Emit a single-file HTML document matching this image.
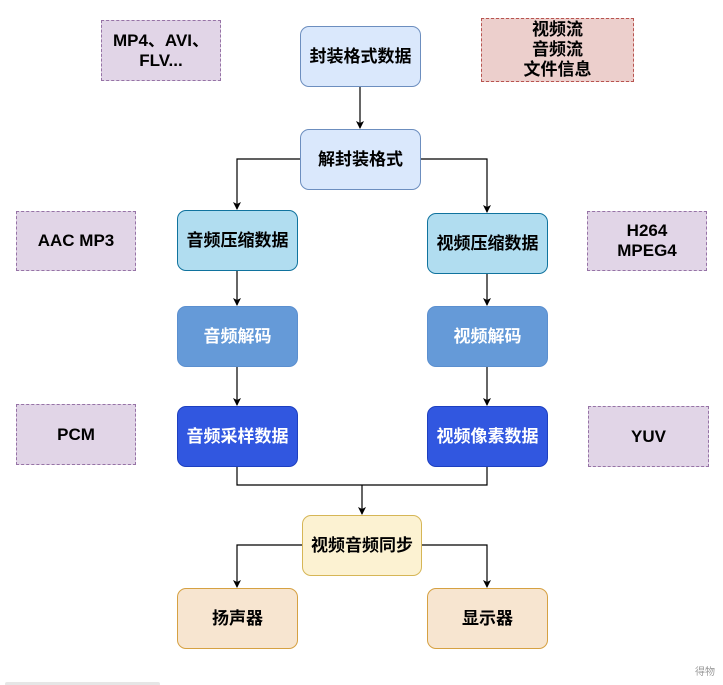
<!DOCTYPE html>
<html><head><meta charset="utf-8"><style>
body{margin:0;width:723px;height:685px;background:#fff;position:relative;overflow:hidden;font-family:"Liberation Sans","Noto Sans CJK SC",sans-serif;font-weight:bold;}
.b{position:absolute;box-sizing:border-box;display:flex;align-items:center;justify-content:center;text-align:center;font-size:17px;line-height:20px;color:#000;}
.r{border-radius:9px;border:1px solid;}
.d{border:1px dashed;}
svg{position:absolute;left:0;top:0}
</style></head><body>
<svg width="723" height="685">
<defs><marker id="a" markerWidth="8" markerHeight="8" refX="7" refY="4" orient="auto" markerUnits="userSpaceOnUse"><path d="M0,0 L8,4 L0,8 L2,4 z" fill="#000"/></marker></defs>
<g stroke="#000" stroke-width="1.2" fill="none">
<line x1="360" y1="86" x2="360" y2="128" marker-end="url(#a)"/>
<polyline points="300,159 237,159 237,209" marker-end="url(#a)"/>
<polyline points="420,159 487,159 487,212" marker-end="url(#a)"/>
<line x1="237" y1="270" x2="237" y2="305" marker-end="url(#a)"/>
<line x1="487" y1="273" x2="487" y2="305" marker-end="url(#a)"/>
<line x1="237" y1="366" x2="237" y2="405" marker-end="url(#a)"/>
<line x1="487" y1="366" x2="487" y2="405" marker-end="url(#a)"/>
<polyline points="237,467 237,485 487,485 487,467"/>
<line x1="362" y1="485" x2="362" y2="514" marker-end="url(#a)"/>
<polyline points="302,545 237,545 237,587" marker-end="url(#a)"/>
<polyline points="422,545 487,545 487,587" marker-end="url(#a)"/>
</g>
<rect x="5" y="682" width="155" height="4" rx="2" fill="#e6e6e6"/>
<text x="705" y="675" font-size="10" fill="#999" text-anchor="middle" font-weight="normal" font-family="Noto Sans CJK SC,sans-serif">得物</text>
</svg>
<div class="b d" style="left:101px;top:20px;width:120px;height:61px;background:#e1d5e7;border-color:#9673a6">MP4、AVI、<br>FLV...</div>
<div class="b d" style="left:481px;top:18px;width:153px;height:64px;background:#eccfcc;border-color:#b85450">视频流<br>音频流<br>文件信息</div>
<div class="b r" style="left:300px;top:26px;width:121px;height:61px;background:#dae8fc;border-color:#6c8ebf">封装格式数据</div>
<div class="b r" style="left:300px;top:129px;width:121px;height:61px;background:#dae8fc;border-color:#6c8ebf">解封装格式</div>
<div class="b d" style="left:16px;top:211px;width:120px;height:60px;background:#e1d5e7;border-color:#9673a6">AAC MP3</div>
<div class="b d" style="left:587px;top:211px;width:120px;height:60px;background:#e1d5e7;border-color:#9673a6">H264<br>MPEG4</div>
<div class="b r" style="left:177px;top:210px;width:121px;height:61px;background:#b1ddf0;border-color:#10739e">音频压缩数据</div>
<div class="b r" style="left:427px;top:213px;width:121px;height:61px;background:#b1ddf0;border-color:#10739e">视频压缩数据</div>
<div class="b r" style="left:177px;top:306px;width:121px;height:61px;background:#659ad8;border-color:#5b8fcf;color:#fff">音频解码</div>
<div class="b r" style="left:427px;top:306px;width:121px;height:61px;background:#659ad8;border-color:#5b8fcf;color:#fff">视频解码</div>
<div class="b d" style="left:16px;top:404px;width:120px;height:61px;background:#e1d5e7;border-color:#9673a6">PCM</div>
<div class="b d" style="left:588px;top:406px;width:121px;height:61px;background:#e1d5e7;border-color:#9673a6">YUV</div>
<div class="b r" style="left:177px;top:406px;width:121px;height:61px;background:#3157e0;border-color:#1d3fc0;color:#fff">音频采样数据</div>
<div class="b r" style="left:427px;top:406px;width:121px;height:61px;background:#3157e0;border-color:#1d3fc0;color:#fff">视频像素数据</div>
<div class="b r" style="left:302px;top:515px;width:120px;height:61px;background:#fcf2d2;border-color:#d6b656">视频音频同步</div>
<div class="b r" style="left:177px;top:588px;width:121px;height:61px;background:#f7e5d0;border-color:#d6a142">扬声器</div>
<div class="b r" style="left:427px;top:588px;width:121px;height:61px;background:#f7e5d0;border-color:#d6a142">显示器</div>
</body></html>
